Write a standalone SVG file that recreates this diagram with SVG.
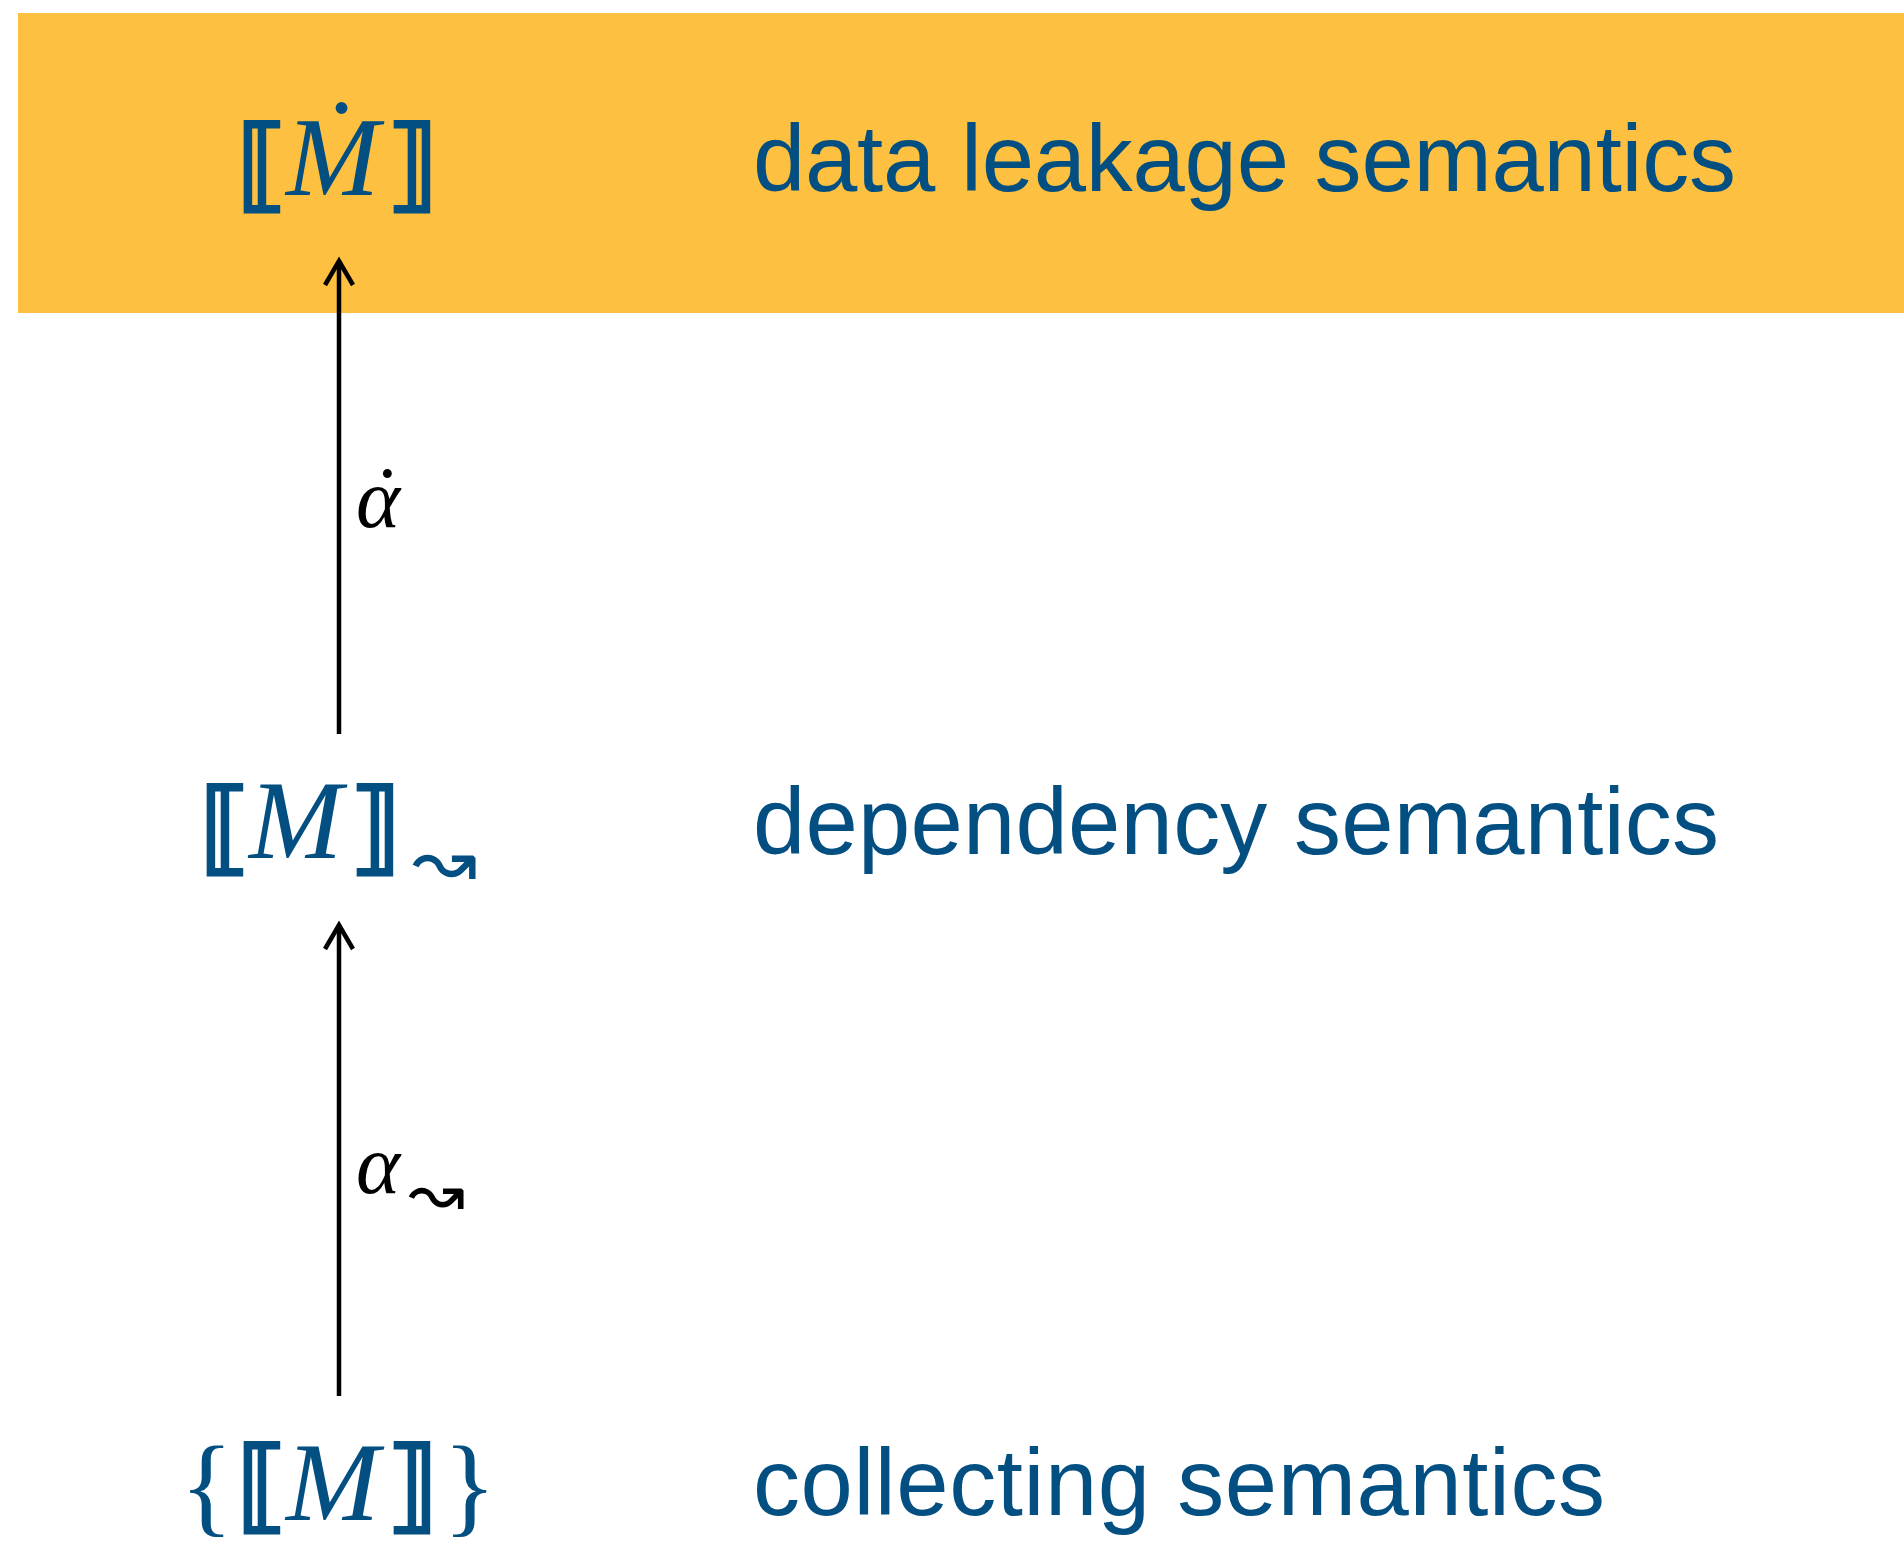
<svg xmlns="http://www.w3.org/2000/svg" width="1904" height="1546" viewBox="0 0 1904 1546">
  <style>
    .label { font-family: "Liberation Sans", Arial, sans-serif; font-size: 94px; fill: #034F81; }
    .math { font-family: "Liberation Serif", "DejaVu Serif", serif; fill: #034F81; }
    .it { font-style: italic; font-size: 112px; }
    .br { font-family: "DejaVu Serif", "DejaVu Sans", serif; font-weight: bold; font-size: 102px; stroke: #034F81; stroke-width: 2.5; }
    .brace { font-family: "Liberation Serif", serif; font-size: 111px; }
    .sub { font-family: "DejaVu Sans", sans-serif; }
    .greek { font-family: "Liberation Serif", "DejaVu Serif", serif; font-style: italic; font-size: 84px; fill: #000; }
    .edge { stroke: #000; stroke-width: 4.5; fill: none; }
  </style>
  <defs>
    <marker id="open-head" markerUnits="userSpaceOnUse" orient="auto" refX="0" refY="0" markerWidth="40" markerHeight="40" overflow="visible">
      <path d="M -24 -14 L 0 0 L -24 14" fill="none" stroke="#000" stroke-width="4.5"/>
    </marker>
  </defs>

  <!-- highlighted top level -->
  <rect id="band" x="18" y="13" width="1886" height="300" fill="#FDC040"/>

  <g id="connectors">
    <line class="edge" x1="339" y1="734" x2="339" y2="261" marker-end="url(#open-head)"/>
    <line class="edge" x1="339" y1="1396" x2="339" y2="925" marker-end="url(#open-head)"/>
    <text class="greek"><tspan x="356" y="527">α</tspan><tspan x="368" y="525">˙</tspan></text>
    <text class="greek" x="356" y="1193">α<tspan class="sub" font-size="68" font-style="normal" x="408" y="1216">↝</tspan></text>
  </g>

  <g id="node-leakage">
    <text class="math"><tspan class="br" x="236" y="199">⟦</tspan><tspan class="it" x="286" y="195">Ṁ</tspan><tspan class="br" x="386" y="199">⟧</tspan></text>
    <text class="label" x="753" y="191" textLength="983" lengthAdjust="spacing">data leakage semantics</text>
  </g>

  <g id="node-dependency">
    <text class="math"><tspan class="br" x="199" y="862">⟦</tspan><tspan class="it" x="249" y="858">M</tspan><tspan class="br" x="349" y="862">⟧</tspan><tspan class="sub" font-size="78" x="412" y="887">↝</tspan></text>
    <text class="label" x="753" y="854" textLength="966" lengthAdjust="spacing">dependency semantics</text>
  </g>

  <g id="node-collecting">
    <text class="math"><tspan class="brace" x="180" y="1522">{</tspan><tspan class="br" x="236" y="1520">⟦</tspan><tspan class="it" x="286" y="1520">M</tspan><tspan class="br" x="386" y="1520">⟧</tspan><tspan class="brace" x="443" y="1522">}</tspan></text>
    <text class="label" x="753" y="1515" textLength="852" lengthAdjust="spacing">collecting semantics</text>
  </g>
</svg>
